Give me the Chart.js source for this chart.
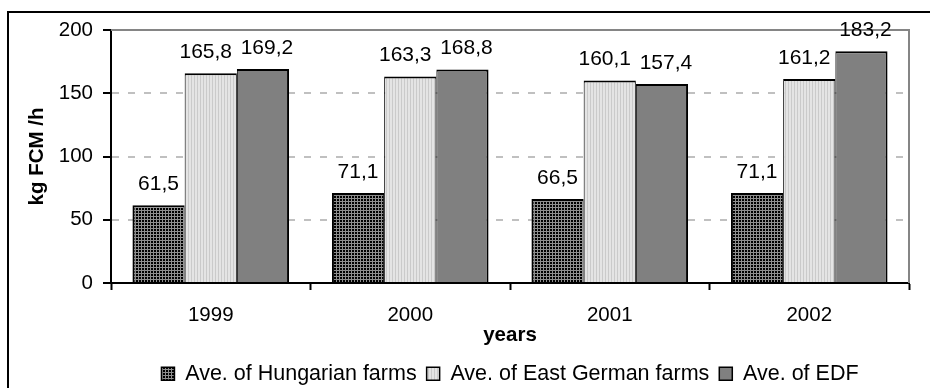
<!DOCTYPE html>
<html>
<head>
<meta charset="utf-8">
<script src="https://cdn.jsdelivr.net/npm/chart.js@4/dist/chart.umd.min.js"></script>
<style>
  html, body { margin: 0; padding: 0; background: #fff; overflow: hidden; }
  canvas { display: block; }
</style>
</head>
<body>
<canvas id="c" width="930" height="388"></canvas>
<script>
// ---- data ----
const years = ['1999', '2000', '2001', '2002'];
const seriesNames = ['Ave. of Hungarian farms', 'Ave. of East German farms', 'Ave. of EDF'];
const hungarian = [61.5, 71.1, 66.5, 71.1];
const eastGerman = [165.8, 163.3, 160.1, 161.2];
const edf = [169.2, 168.8, 157.4, 183.2];
const yTicks = [0, 50, 100, 150, 200];

// ---- fill patterns ----
function makePattern(w, h, draw) {
  const c = document.createElement('canvas');
  c.width = w; c.height = h;
  const g = c.getContext('2d');
  draw(g);
  return c.getContext('2d').createPattern(c, 'repeat');
}
const gridPattern = makePattern(3, 3, g => {
  g.fillStyle = '#000'; g.fillRect(0, 0, 3, 3);
  g.fillStyle = '#8e8e8e'; g.fillRect(0, 0, 3, 1); g.fillRect(0, 0, 1, 3);
});
const stripePattern = makePattern(3, 3, g => {
  g.fillStyle = '#e4e4e4'; g.fillRect(0, 0, 3, 3);
  g.fillStyle = '#cacaca'; g.fillRect(2, 0, 1, 3);
});

const FONT = '"Liberation Sans", Arial, sans-serif';
// small horizontal nudge of value labels per series, so neighbouring labels do not touch
const labelNudge = [0, -5, 4];

const framePlugin = {
  id: 'frame',
  beforeDraw(chart) {
    const ctx = chart.ctx;
    ctx.save();
    ctx.fillStyle = '#fff';
    ctx.fillRect(0, 0, chart.width, chart.height);
    ctx.strokeStyle = '#000';
    ctx.lineWidth = 2;
    ctx.strokeRect(8, 12, 1000, 1000);
    ctx.restore();
  },
  beforeDatasetsDraw(chart) {
    const {ctx, chartArea: a} = chart;
    ctx.save();
    ctx.strokeStyle = '#858585';
    ctx.lineWidth = 2;
    ctx.beginPath();
    ctx.moveTo(a.left, a.top);
    ctx.lineTo(a.right, a.top);
    ctx.lineTo(a.right, a.bottom);
    ctx.stroke();
    ctx.restore();
  }
};

const labelPlugin = {
  id: 'valueLabels',
  afterDatasetsDraw(chart) {
    const ctx = chart.ctx;
    ctx.save();
    ctx.font = '21px ' + FONT;
    ctx.fillStyle = '#000';
    ctx.textAlign = 'center';
    ctx.textBaseline = 'middle';
    chart.data.datasets.forEach((ds, di) => {
      const meta = chart.getDatasetMeta(di);
      meta.data.forEach((bar, i) => {
        const txt = ds.data[i].toFixed(1).replace('.', ',');
        ctx.fillText(txt, bar.x + labelNudge[di], bar.y - 21);
      });
    });
    ctx.restore();
  }
};

new Chart(document.getElementById('c'), {
  type: 'bar',
  data: {
    labels: years,
    datasets: [
      { label: seriesNames[0], data: hungarian, backgroundColor: gridPattern, borderColor: '#000',
        borderWidth: {top: 2, left: 2, right: 1, bottom: 0} },
      { label: seriesNames[1], data: eastGerman, backgroundColor: stripePattern, borderColor: '#000',
        borderWidth: {top: 2, left: 1, right: 1, bottom: 0} },
      { label: seriesNames[2], data: edf, backgroundColor: '#808080', borderColor: '#000',
        borderWidth: {top: 2, left: 1, right: 2, bottom: 0} }
    ]
  },
  options: {
    responsive: false,
    animation: false,
    devicePixelRatio: 1,
    layout: { padding: { left: 10, right: 21, top: 30, bottom: 0 } },
    datasets: { bar: { barPercentage: 1, categoryPercentage: 0.785 } },
    plugins: {
      tooltip: { enabled: false },
      legend: {
        position: 'bottom',
        fullSize: false,
        maxHeight: 35,
        labels: {
          color: '#000',
          font: { family: FONT, size: 21.5 },
          boxWidth: 13,
          boxHeight: 13,
          padding: 10,
          generateLabels(chart) {
            const items = Chart.defaults.plugins.legend.labels.generateLabels(chart);
            items.forEach(it => { it.lineWidth = 1.5; it.strokeStyle = '#000'; });
            return items;
          }
        }
      }
    },
    scales: {
      x: {
        type: 'category',
        offset: true,
        z: 1,
        grid: { offset: true, drawOnChartArea: false, drawTicks: true, tickLength: 7,
                tickWidth: 2, tickColor: '#000', color: '#000' },
        border: { color: '#000', width: 2 },
        ticks: { color: '#000', font: { family: FONT, size: 20.5 }, padding: 13, maxRotation: 0 },
        title: { display: true, text: 'years', color: '#000',
                 font: { family: FONT, size: 20.5, weight: 'bold' }, padding: { top: 0, bottom: 5 } },
        afterFit(scale) { scale.height = 70; scale.paddingLeft = 0; scale.paddingRight = 0; }
      },
      y: {
        min: 0,
        max: 200,
        grid: { color: '#c0c0c0', lineWidth: 2, tickColor: '#000', tickWidth: 2, tickLength: 8,
                tickBorderDash: [] },
        border: { color: '#000', width: 2, dash: [7, 9] },
        ticks: { color: '#000', font: { family: FONT, size: 20.5 }, padding: 10, stepSize: 50,
                 callback: (v) => yTicks.includes(v) ? String(v) : '' },
        title: { display: true, text: 'kg FCM /h', color: '#000',
                 font: { family: FONT, size: 20.5, weight: 'bold' }, padding: { top: 15, bottom: 0 } },
        afterFit(scale) { scale.width = 101; scale.paddingTop = 0; scale.paddingBottom = 0; }
      }
    }
  },
  plugins: [framePlugin, labelPlugin]
});
</script>
</body>
</html>
